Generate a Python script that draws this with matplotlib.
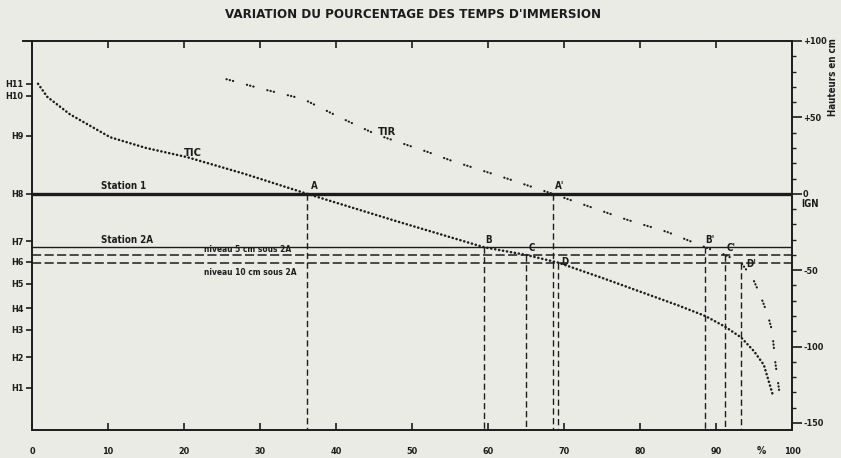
import matplotlib.pyplot as plt

# courbes (x en %, y en cm / IGN)
tic_x = [0.8, 2.0, 5.0, 10.3, 15.0, 20.4, 28.0, 36.2, 48.0, 59.5, 65.0, 69.2, 75.0, 80.0, 85.0, 88.6, 91.2, 93.3, 95.0, 96.3, 97.5]
tic_y = [72, 63.5, 52, 37, 30, 24, 13, 0, -18, -35, -40, -45, -55, -64, -73, -80, -87, -94, -103, -112, -132]
tir_x = [25.6, 30.0, 35.7, 40.5, 45.4, 52.0, 55.0, 62.5, 68.5, 78.3, 83.6, 88.6, 91.2, 93.3, 94.9, 95.8, 96.8, 97.4, 97.8, 98.4]
tir_y = [75, 69, 62, 50, 38.6, 27.5, 22, 10, 0, -17, -25, -35, -40, -45, -56, -66, -79, -90, -110, -132]

h_names = ['H11', 'H10', 'H9', 'H8', 'H7', 'H6', 'H5', 'H4', 'H3', 'H2', 'H1']
h_cm = [72, 64, 38, 0, -31, -44.5, -59, -75, -89, -107, -127]

station1 = 0
station2a = -35
niveau5 = -40
niveau10 = -45

pt_names = ['A', "A'", 'B', 'C', 'D', "B'", "C'", "D'"]
pt_x = [36.2, 68.5, 59.5, 65.0, 69.2, 88.6, 91.2, 93.3]
pt_level = [0, 0, -35, -40, -45, -35, -40, -45]

x_ticks = [0, 10, 20, 30, 40, 50, 60, 70, 80, 90, 100]
right_ticks = [100, 50, 0, -50, -100, -150]
right_labels = ['+100', '+50', '0', '-50', '-100', '-150']

ink = '#1c1c1c'
paper = '#ebebe6'
font = dict(family=['Liberation Sans Narrow', 'DejaVu Sans'], weight='bold', stretch='condensed', color=ink)

fig = plt.figure(figsize=(8.41, 4.58), dpi=100, facecolor=paper)
ax = fig.add_axes([0.038, 0.0611, 0.9037, 0.8494])
ax.set_facecolor(paper)
ax.set_xlim(0, 100)
ax.set_ylim(-154.6, 100)

for s in ax.spines.values():
    s.set_color(ink)
    s.set_linewidth(1.4)

# lignes de niveau
ax.axhline(station1, color=ink, lw=2.4)
ax.axhline(station2a, color=ink, lw=1.0)
ax.axhline(niveau5, color=ink, lw=1.1, ls=(0, (6, 2.2)))
ax.axhline(niveau10, color=ink, lw=1.1, ls=(0, (6, 2.2)))

# verticales pointillees
for x, lev in zip(pt_x, pt_level):
    ax.plot([x, x], [lev, -154.6], color=ink, lw=1.0, ls=(0, (4.5, 2.5)))

ax.plot(tic_x, tic_y, color=ink, lw=1.8, ls=(0, (0.1, 1.5)), dash_capstyle='round')
ax.plot(tir_x, tir_y, color=ink, lw=1.6, ls=(0, (0.1, 1.4, 0.1, 1.4, 0.1, 6.4)), dash_capstyle='round')

# etiquettes des points
offs = {'A': (0.5, 2, 'bottom'), "A'": (0.3, 2, 'bottom'), 'B': (0.2, 1.5, 'bottom'),
        'C': (0.3, 1.5, 'bottom'), 'D': (0.5, 0.5, 'center'), "B'": (0.0, 1.5, 'bottom'),
        "C'": (0.2, 1.5, 'bottom'), "D'": (0.7, -1.0, 'center')}
for n, x, lev in zip(pt_names, pt_x, pt_level):
    dx, dy, va = offs[n]
    ax.text(x + dx, lev + dy, n, fontsize=7, va=va, ha='left', **font)

ax.text(21.2, 23.5, 'TIC', fontsize=8, ha='center', va='bottom', **font)
ax.text(46.7, 37, 'TIR', fontsize=8, ha='center', va='bottom', **font)
ax.text(9.1, 1.5, 'Station 1', fontsize=7, va='bottom', **font)
ax.text(9.1, -33.5, 'Station 2A', fontsize=7, va='bottom', **font)
ax.text(22.7, -39.3, 'niveau 5 cm sous 2A', fontsize=6, va='bottom', **font)
ax.text(22.7, -48.5, 'niveau 10 cm sous 2A', fontsize=6, va='top', **font)

# axe gauche : niveaux H
ax.set_yticks(h_cm)
ax.set_yticklabels(h_names, fontsize=6.5, **font)
ax.tick_params(axis='y', direction='out', length=4, width=1.2, color=ink, pad=2)

# axe x
ax.set_xticks(x_ticks)
ax.set_xticklabels([str(v) for v in x_ticks], fontsize=6.5, **font)
ax.tick_params(axis='x', direction='in', length=5, width=1.2, color=ink, pad=12,
               top=True, bottom=True)
ax.text(96.0, -165, '%', fontsize=7.5, ha='center', va='top', **font)

# axe droit : hauteurs en cm
ax2 = ax.twinx()
ax2.set_ylim(ax.get_ylim())
ax2.set_yticks(right_ticks)
ax2.set_yticklabels(right_labels, fontsize=6.5, **font)
ax2.set_yticks(range(-150, 101, 10), minor=True)
ax2.tick_params(axis='y', which='major', direction='out', length=7, width=1.2, color=ink, pad=1)
ax2.tick_params(axis='y', which='minor', direction='out', length=3, width=1.0, color=ink)
for s in ax2.spines.values():
    s.set_visible(False)
ax.text(101.2, -7, 'IGN', fontsize=7, ha='left', va='center', clip_on=False, **font)

# prolongement du cadre superieur a gauche
ax.plot([-1.2, 0], [100, 100], color=ink, lw=1.4, clip_on=False)

fig.text(0.4915, 0.969, "VARIATION DU POURCENTAGE DES TEMPS D'IMMERSION", fontsize=9.5,
         ha='center', va='center', **font)
fig.text(0.991, 0.832, 'Hauteurs en cm', fontsize=7, rotation=90, ha='center', va='center', **font)

fig.savefig('out.png', dpi=100, facecolor=paper)
